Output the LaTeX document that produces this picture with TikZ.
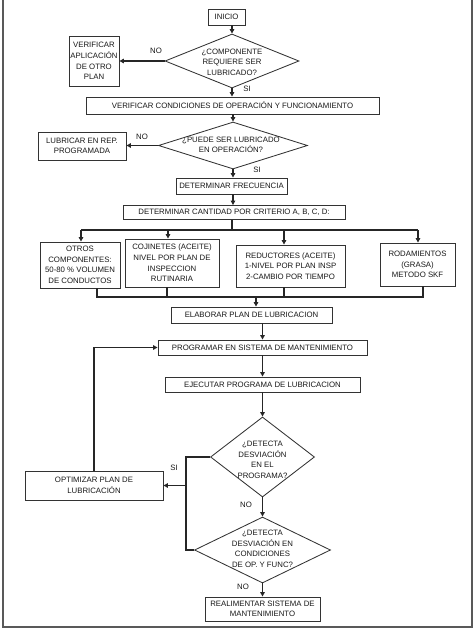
\documentclass[tikz,border=0pt]{standalone}
\usepackage{fontspec}
\newfontfamily\lab{Liberation Sans}
\usetikzlibrary{shapes.geometric,arrows.meta}
\tikzset{
  lbl/.style={font=\lab\fontsize{7.8}{10.6}\selectfont, text=black!90},
  box/.style={lbl, draw=black!80, line width=0.85pt, fill=white, align=center, inner sep=1pt, anchor=center},
  dia/.style={diamond, draw=black!80, line width=0.85pt, inner sep=0pt, anchor=center},
  dtxt/.style={lbl, align=center, inner sep=0pt},
  arr/.style={-{Triangle[length=4.5pt,width=4.5pt]}, line width=1.2pt, draw=black!85},
  ln/.style={line width=1.2pt, draw=black!85, line join=miter},
  frame/.style={line width=2.5pt, draw=black!65}
}
\begin{document}
\begin{tikzpicture}[x=1pt,y=-1pt]
\useasboundingbox (0,0) rectangle (474,632);
\draw[frame] (3,-10) -- (3,627) -- (472,627) -- (472,-10);

% top part
\node[box, minimum width=37pt, minimum height=16pt] (inicio) at (226.5,17) {INICIO};
\node[dia, minimum width=134pt, minimum height=54pt] (d1) at (232,61) {};
\node[dtxt] (d1t) at (232,62) {¿COMPONENTE\\REQUIERE SER\\LUBRICADO?};
\node[box, minimum width=50pt, minimum height=50pt] (verif) at (94,61) {VERIFICAR\\APLICACIÓN\\DE OTRO\\PLAN};
\node[box, minimum width=293pt, minimum height=17pt] (vcond) at (232.5,105.5) {VERIFICAR CONDICIONES DE OPERACIÓN Y FUNCIONAMIENTO};
\node[dia, minimum width=149pt, minimum height=47pt] (d2) at (233,145.5) {};
\node[dtxt] (d2t) at (231,145) {¿PUEDE SER LUBRICADO\\EN OPERACIÓN?};
\node[box, minimum width=88pt, minimum height=28pt] (lubr) at (82,146) {LUBRICAR EN REP.\\PROGRAMADA};
\node[box, minimum width=111pt, minimum height=16pt] (freq) at (231.5,186) {DETERMINAR FRECUENCIA};
\node[box, minimum width=222pt, minimum height=14pt] (cant) at (234,212.5) {DETERMINAR CANTIDAD POR CRITERIO A, B, C, D:};

\node[lbl] (no1) at (156,51) {NO};
\node[lbl] (si1) at (247,89) {SI};
\node[lbl] (no2) at (142,137) {NO};
\node[lbl] (si2) at (257,170) {SI};

\draw[arr] (inicio.south -| d1.north) -- (d1.north);
\draw[arr] (d1.west) -- (d1.west -| verif.east);
\draw[arr] (d1.south) -- (d1.south |- vcond.north);
\draw[arr] (vcond.south -| d2.north) -- (d2.north);
\draw[arr] (d2.west) -- (d2.west -| lubr.east);
\draw[arr] (d2.south) -- (d2.south |- freq.north);
\draw[arr] (freq.south -| d2.south) -- (d2.south |- cant.north);

% component boxes
\node[box, minimum width=80pt, minimum height=46pt] (otros) at (80,265) {OTROS\\COMPONENTES:\\50-80 \% VOLUMEN\\DE CONDUCTOS};
\node[box, minimum width=94pt, minimum height=48pt] (coj) at (172,263) {COJINETES (ACEITE)\\NIVEL POR PLAN DE\\INSPECCION\\RUTINARIA};
\node[box, minimum width=109pt, minimum height=42pt] (red) at (290.5,266) {REDUCTORES (ACEITE)\\1-NIVEL POR PLAN INSP\\2-CAMBIO POR TIEMPO};
\node[box, minimum width=75pt, minimum height=43pt] (rod) at (417.5,264.5) {RODAMIENTOS\\(GRASA)\\METODO SKF};

\coordinate (b1) at (232,230);
\coordinate (b1l) at (81,230);
\coordinate (b1r) at (418,230);
\draw[ln] (cant.south -| b1) -- (b1);
\draw[ln] (b1l) -- (b1r);
\draw[arr] (b1l) -- (b1l |- otros.north);
\draw[arr] (168,230) -- (168,0 |- coj.north);
\draw[arr] (284,230) -- (284,0 |- red.north);
\draw[arr] (b1r) -- (b1r |- rod.north);

\coordinate (b2l) at (97,297);
\coordinate (b2r) at (423,297);
\coordinate (b2m) at (256,297);
\draw[ln] (b2l |- otros.south) -- (b2l) -- (b2r) -- (b2r |- rod.south);
\draw[ln] (167,0 |- coj.south) -- (167,297);
\draw[ln] (284,0 |- red.south) -- (284,297);

\node[box, minimum width=161pt, minimum height=16pt] (elab) at (251.5,315) {ELABORAR PLAN DE LUBRICACION};
\draw[arr] (b2m) -- (b2m |- elab.north);

\node[box, minimum width=209pt, minimum height=15pt] (prog) at (262.5,347.5) {PROGRAMAR EN SISTEMA DE MANTENIMIENTO};
\node[box, minimum width=195pt, minimum height=15pt] (ejec) at (262.5,384.5) {EJECUTAR PROGRAMA DE LUBRICACION};
\draw[arr] (262.5,0 |- elab.south) -- (prog.north);
\draw[arr] (prog.south) -- (ejec.north);

\node[dia, minimum width=104pt, minimum height=80pt] (d3) at (262.5,457) {};
\node[dtxt] (d3t) at (262.5,460) {¿DETECTA\\DESVIACIÓN\\EN EL\\PROGRAMA?};
\draw[arr] (ejec.south) -- (d3.north);

\node[box, minimum width=138pt, minimum height=29pt] (opt) at (94,485.5) {OPTIMIZAR PLAN DE\\LUBRICACIÓN};

\node[dia, minimum width=136pt, minimum height=66pt] (d4) at (262.5,550) {};
\node[dtxt] (d4t) at (262.5,549) {¿DETECTA\\DESVIACIÓN EN\\CONDICIONES\\DE OP. Y FUNC?};
\draw[arr] (d3.south) -- (d4.north);

\node[box, minimum width=115pt, minimum height=24pt] (real) at (262.5,609) {REALIMENTAR SISTEMA DE\\MANTENIMIENTO};
\draw[arr] (d4.south) -- (real.north);

\coordinate (j) at (186,485.5);
\draw[ln] (d3.west) -- (186,457) -- (186,550) -- (d4.west);
\draw[arr] (j) -- (opt.east);
\draw[arr] (opt.north) -- (opt.north |- prog.west) -- (prog.west);

\node[lbl] (si3) at (174,468) {SI};
\node[lbl] (no3) at (246,505) {NO};
\node[lbl] (no4) at (243,587) {NO};
\end{tikzpicture}
\end{document}
